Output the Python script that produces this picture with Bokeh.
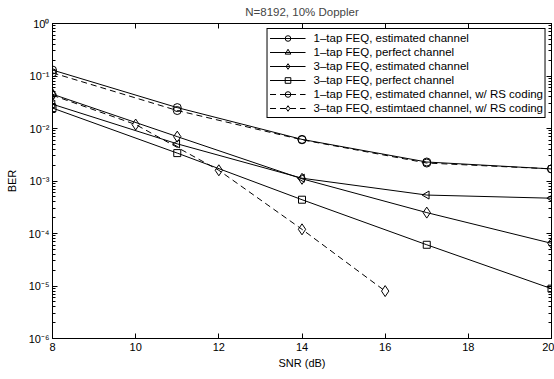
from bokeh.plotting import figure
from bokeh.models import (LogAxis, LinearAxis, Range1d, Legend, LegendItem,
                          CustomJSTickFormatter, FixedTicker)
from bokeh.embed import file_html
from bokeh.resources import INLINE
import numpy as np

# ---- data ----
snr_a = [8, 11, 14, 17, 20]
snr_b = [8, 10, 12, 14, 16]
ber_1tap_est = [0.13, 0.025, 0.0062, 0.0023, 0.0017]
ber_1tap_perf = [0.029, 0.0051, 0.00113, 0.00054, 0.00047]
ber_3tap_est = [0.045, 0.0070, 0.0011, 0.00025, 6.5e-5]
ber_3tap_perf = [0.0245, 0.0034, 0.00044, 6.1e-5, 8.9e-6]
ber_1tap_est_rs = [0.115, 0.022, 0.0061, 0.0022, 0.0017]
ber_3tap_est_rs = [0.043, 0.0119, 0.0016, 0.00012, 8.0e-6]

x_ticks = [8, 10, 12, 14, 16, 18, 20]
y_exponents = [-6, -5, -4, -3, -2, -1, 0]

labels = [
    "1\u2013tap FEQ, estimated channel",
    "1\u2013tap FEQ, perfect channel",
    "3\u2013tap FEQ, estimated channel",
    "3\u2013tap FEQ, perfect channel",
    "1\u2013tap FEQ, estimated channel, w/ RS coding",
    "3\u2013tap FEQ, estimtaed channel, w/ RS coding",
]

FONT = "Liberation Sans"

p = figure(width=554, height=379, x_range=Range1d(8, 20), y_range=Range1d(1e-6, 1),
           y_axis_type="log", output_backend="svg", toolbar_location=None,
           min_border_left=52, min_border_right=3, min_border_top=23, min_border_bottom=41,
           title="N=8192, 10% Doppler")
p.title.align = "center"
p.title.vertical_align = "top"
p.title.text_font = FONT
p.title.text_font_size = "11.5px"
p.title.text_font_style = "normal"
p.title.standoff = 8
p.title.offset = 0
p.grid.visible = False
p.outline_line_color = "black"
p.outline_line_alpha = 1
p.background_fill_color = "white"
p.border_fill_color = "white"

major_y = [10.0 ** e for e in y_exponents]
minor_y = [k * 10.0 ** e for e in y_exponents[:-1] for k in range(2, 10)]
yticker = FixedTicker(ticks=major_y, minor_ticks=minor_y)
xticker = FixedTicker(ticks=x_ticks)

sup_js = """
const m = {'-':'\u207b','0':'\u2070','1':'\u00b9','2':'\u00b2','3':'\u00b3','4':'\u2074','5':'\u2075','6':'\u2076','7':'\u2077','8':'\u2078','9':'\u2079'};
const e = Math.round(Math.log10(tick));
return '10' + String(e).split('').map(c => m[c]).join('');
"""

def style_axis(ax):
    ax.major_tick_in = 5
    ax.major_tick_out = 0
    ax.minor_tick_in = 3
    ax.minor_tick_out = 0
    ax.axis_line_color = "black"
    ax.major_tick_line_color = "black"
    ax.minor_tick_line_color = "black"
    ax.major_label_text_font = FONT
    ax.major_label_text_font_size = "11px"
    ax.major_label_text_color = "black"
    ax.axis_label_text_font = FONT
    ax.axis_label_text_font_size = "11px"
    ax.axis_label_text_font_style = "normal"
    ax.axis_label_text_color = "black"

xa = p.xaxis[0]
xa.ticker = xticker
xa.axis_label = "SNR (dB)"
style_axis(xa)
xa.minor_tick_in = 0
xa.major_label_standoff = 4
xa.axis_label_standoff = 3

ya = p.yaxis[0]
ya.ticker = yticker
ya.formatter = CustomJSTickFormatter(code=sup_js)
ya.axis_label = "BER"
style_axis(ya)
ya.major_label_standoff = 3
ya.axis_label_standoff = 8

blank = "return '';"
ra = LogAxis(ticker=yticker, formatter=CustomJSTickFormatter(code=blank))
style_axis(ra)
ra.major_label_text_font_size = "0px"
ra.major_label_standoff = 0
p.add_layout(ra, "right")

ta = LinearAxis(ticker=xticker, formatter=CustomJSTickFormatter(code=blank))
style_axis(ta)
ta.minor_tick_in = 0
ta.major_label_text_font_size = "0px"
ta.major_label_standoff = 0
p.add_layout(ta, "above")

series = [
    (snr_a, ber_1tap_est, "circle", 0.0, 8, "solid"),
    (snr_a, ber_1tap_perf, "triangle", np.pi / 2, 8, "solid"),
    (snr_a, ber_3tap_est, "diamond", 0.0, 11, "solid"),
    (snr_a, ber_3tap_perf, "square", 0.0, 7, "solid"),
    (snr_a, ber_1tap_est_rs, "circle", 0.0, 8, "6 4"),
    (snr_b, ber_3tap_est_rs, "diamond", 0.0, 11, "6 4"),
]

items = []
for (xs, ys, mk, ang, sz, dash), lab in zip(series, labels):
    ln = p.line(xs, ys, line_color="black", line_width=1, line_dash=dash)
    sc = p.scatter(xs, ys, marker=mk, angle=ang, size=sz, line_color="black",
                   fill_color=None, line_width=1)
    rends = [ln, sc]
    if mk == "circle" and dash != "solid":
        # legend-only bar through the circle (size 0 on the plot itself)
        sc2 = p.scatter(xs, ys, marker="dash", size=0, line_color="black", line_width=1)
        rends.append(sc2)
    items.append(LegendItem(label=lab, renderers=rends))

leg = Legend(items=items, location="top_right")
leg.label_text_font = FONT
leg.label_text_font_size = "11.5px"
leg.label_text_color = "black"
leg.border_line_color = "black"
leg.border_line_alpha = 1
leg.border_line_width = 1
leg.background_fill_alpha = 1
leg.spacing = 0
leg.padding = 2
leg.margin = 5
leg.glyph_width = 36
leg.glyph_height = 14
leg.label_height = 14
leg.label_standoff = 8
p.add_layout(leg)

open("out.html", "w").write(file_html(p, INLINE))
